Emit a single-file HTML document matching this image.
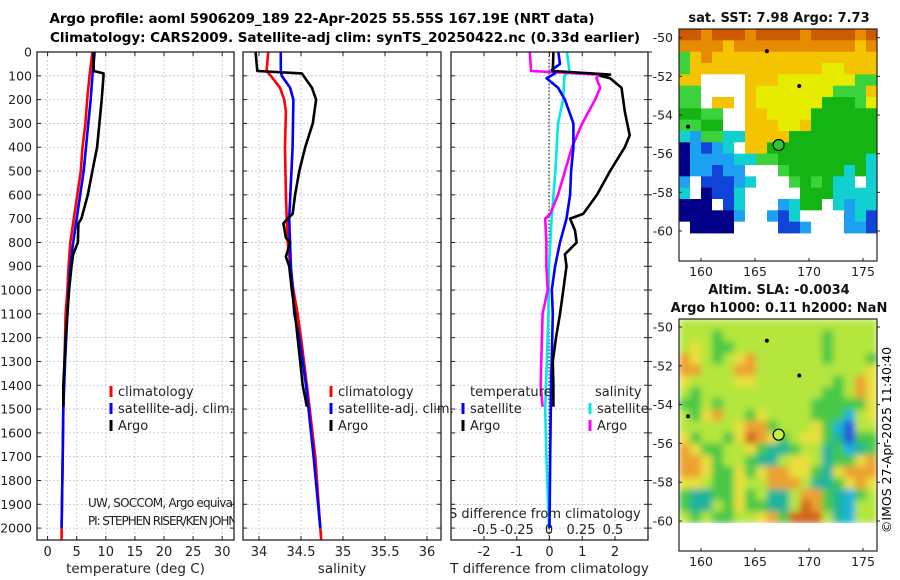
<!DOCTYPE html>
<html><head><meta charset="utf-8"><style>
html,body{margin:0;padding:0;background:#fff;width:900px;height:580px;overflow:hidden}
svg{display:block;font-family:"DejaVu Sans","Liberation Sans",sans-serif}
</style></head><body>
<svg id="fig" width="900" height="580" viewBox="0 0 900 580" xmlns="http://www.w3.org/2000/svg">
<defs>
<filter id="soft" x="0" y="0" width="1" height="1"><feGaussianBlur stdDeviation="3.5" edgeMode="duplicate"/></filter>
<clipPath id="slaclip"><rect x="679" y="319" width="198" height="204"/></clipPath>
</defs>
<text x="322" y="23" text-anchor="middle" font-weight="bold" font-size="13.5" textLength="545">Argo profile: aoml 5906209_189 22-Apr-2025 55.55S 167.19E (NRT data)</text>
<text x="345" y="42" text-anchor="middle" font-weight="bold" font-size="13.5" textLength="590">Climatology: CARS2009. Satellite-adj clim: synTS_20250422.nc (0.33d earlier)</text>
<g id="panels"></g>
<g id="maps"></g>
<text transform="translate(891,440) rotate(-90)" text-anchor="middle" font-size="12.5">©IMOS 27-Apr-2025 11:40:40</text>
</svg>
<script>
// ---------------- data ----------------
const depthTicks = [0,100,200,300,400,500,600,700,800,900,1000,1100,1200,1300,1400,1500,1600,1700,1800,1900,2000];
const tempTicks = [0,5,10,15,20,25,30];
const salTicks = [34,34.5,35,35.5,36];
const tdiffTicks = [-2,-1,0,1,2];
const sdiffTicks = [-0.5,-0.25,0,0.25,0.5];

const argoDepth = [0,80,90,100,200,300,400,500,600,700,720,800,850,900,1000,1100,1200,1300,1400,1490];
const argoTemp  = [7.9,7.9,9.6,9.6,9.3,8.9,8.5,7.7,6.9,5.8,5.3,5.2,4.4,4.1,3.7,3.4,3.1,2.9,2.7,2.7];
const climDepth = [0,100,200,300,400,500,600,700,800,900,1000,1100,1300,1500,1700,2000,2050];
const climTemp  = [7.7,7.2,6.8,6.5,6.0,5.7,5.1,4.5,3.9,3.6,3.4,3.1,2.9,2.7,2.6,2.4,2.4];
const satDepth  = [0,100,200,300,400,500,600,700,800,900,1000,1100,1300,1500,1700,2000];
const satTemp   = [8.1,7.7,7.4,7.0,6.6,6.2,5.6,5.0,4.4,3.9,3.6,3.4,3.0,2.7,2.6,2.4];

const argoSDepth = [0,80,90,150,200,300,400,500,600,680,700,720,780,800,860,900,1000,1100,1200,1300,1400,1490];
const argoSal    = [33.96,33.98,34.51,34.63,34.68,34.64,34.55,34.48,34.43,34.40,34.34,34.29,34.32,34.37,34.32,34.36,34.39,34.43,34.46,34.49,34.52,34.57];
const climSDepth = [0,80,100,150,200,250,400,600,800,1000,1100,1200,1400,1700,2000,2050];
const climSal    = [34.11,34.09,34.14,34.25,34.30,34.32,34.31,34.32,34.34,34.41,34.46,34.50,34.57,34.67,34.73,34.74];
const satSDepth  = [0,80,100,150,200,400,700,900,1100,1200,1400,1700,2000];
const satSal     = [34.26,34.26,34.27,34.37,34.41,34.40,34.36,34.38,34.42,34.48,34.56,34.65,34.73];

const tdArgoDepth = [0,80,95,100,110,150,250,350,400,500,600,680,700,750,800,850,900,1000,1100,1200,1300,1400,1490];
const tdArgo      = [0.12,0.1,1.85,1.55,1.85,2.2,2.3,2.45,2.3,1.85,1.45,1.03,0.63,0.78,0.83,0.47,0.52,0.42,0.32,0.2,0.1,0.12,0.12];
const tdSatDepth  = [0,50,75,90,110,150,200,300,400,500,600,700,800,900,1000,1100,1400,1700,2000];
const tdSat       = [0.27,0.32,0.07,0.17,-0.09,0.26,0.47,0.73,0.73,0.66,0.63,0.52,0.32,0.17,0.07,0.1,0.05,0.02,0];
const sdSatDepth  = [0,80,100,200,300,500,700,900,1100,1500,1700,2000];
const sdSat       = [0.14,0.16,0.12,0.11,0.07,0.05,0.02,0,-0.005,-0.03,-0.02,0];
const sdArgoDepth = [0,80,95,110,150,200,300,400,500,600,680,700,800,900,1000,1100,1300,1400,1490];
const sdArgo      = [-0.15,-0.14,0.39,0.37,0.4,0.36,0.26,0.18,0.125,0.07,0.01,-0.03,-0.02,-0.02,-0.01,-0.05,-0.06,-0.065,-0.05];

// ---------------- helpers ----------------
const NS = "http://www.w3.org/2000/svg";
const fig = document.getElementById('panels');
function mk(tag, attrs, parent){ const e=document.createElementNS(NS,tag); for(const k in attrs) e.setAttribute(k,attrs[k]); (parent||fig).appendChild(e); return e; }
const Y0 = 52, YS = 488/2050;
function yD(d){ return Y0 + d*YS; }

function panel(name, x0, x1, xfun, ticks, tickFmt, xlabel){
  const g = mk('g',{});
  
  
  depthTicks.forEach(d=>{
    const l = mk('line',{x1:x0,x2:x1,y1:yD(d),y2:yD(d),stroke:'#b8c4e0','stroke-width':0.8,'stroke-dasharray':'2,2'},g);
    
    
    mk('line',{x1:x0,x2:x0+4,y1:yD(d),y2:yD(d),stroke:'#222'},g);
    mk('line',{x1:x1,x2:x1-4,y1:yD(d),y2:yD(d),stroke:'#222'},g);
  });
  ticks.forEach(t=>{
    const x = xfun(t);
    const l = mk('line',{x1:x,x2:x,y1:Y0,y2:540,stroke:'#b8c4e0','stroke-width':0.8,'stroke-dasharray':'2,2'},g);
    
    
    mk('line',{x1:x,x2:x,y1:540,y2:536,stroke:'#222'},g);
    mk('line',{x1:x,x2:x,y1:Y0,y2:Y0+4,stroke:'#222'},g);
    const tx = mk('text',{x:x,y:556,'text-anchor':'middle','font-size':13,fill:'#222'},g);
    tx.textContent = tickFmt(t);
    
    
  });
  const xl = mk('text',{x:(x0+x1)/2,y:573,'text-anchor':'middle','font-size':13.5,fill:'#222'},g);
  xl.textContent = xlabel;
  
  
  return g;
}
function frame(g,x0,x1){
  const r = mk('rect',{x:x0,y:Y0,width:x1-x0,height:540-Y0,fill:'none',stroke:'#222','stroke-width':1.3},g);
  
  
}
function clipFor(id,x0,x1){
  const cp = mk('clipPath',{id:id});
  mk('rect',{x:x0,y:Y0,width:x1-x0,height:540-Y0},cp);
}
function series(g, name, depths, vals, xfun, color, clip){
  const pts = depths.map((d,i)=> xfun(vals[i]).toFixed(1)+','+yD(d).toFixed(1)).join(' ');
  const p = mk('polyline',{points:pts,fill:'none',stroke:color,'stroke-width':2.6,'stroke-linejoin':'round','clip-path':'url(#'+clip+')'},g);
  
  
}
function legend(g, x, y, color, label){
  const l = mk('line',{x1:x,x2:x,y1:y-10,y2:y+1,stroke:color,'stroke-width':3},g);
  
  
  const t = mk('text',{x:x+7,y:y,'font-size':13,fill:'#222'},g);
  t.textContent = label;
  
  
}

depthTicks.forEach(d=>{
  const t = mk('text',{x:32,y:yD(d)+4.5,'text-anchor':'end','font-size':12.5,fill:'#222'});
  t.textContent = d;
  
  
});

// panel 1 temperature
const xT = t=>47.6+5.82*t;
clipFor('c1',37,234);
const g1 = panel('temperature-panel',37,234,xT,tempTicks,t=>String(t),'temperature (deg C)');
series(g1,'temp-climatology-line',climDepth,climTemp,xT,'#f00','c1');
series(g1,'temp-satellite-line',satDepth,satTemp,xT,'#00f','c1');
series(g1,'temp-argo-line',argoDepth,argoTemp,xT,'#000','c1');
legend(g1,111,396,'#f00','climatology');
legend(g1,111,413,'#00f','satellite-adj. clim.');
legend(g1,111,430,'#000','Argo');
const cred = mk('g',{'clip-path':'url(#c1)'},g1);


const c1t = mk('text',{x:88,y:507,'font-size':12,fill:'#222',textLength:165},cred); c1t.textContent='UW, SOCCOM, Argo equivalent';
const c2t = mk('text',{x:88,y:525,'font-size':12,fill:'#222',textLength:172},cred); c2t.textContent='PI: STEPHEN RISER/KEN JOHNSON';
frame(g1,37,234);

// panel 2 salinity
const xS = s=>259+84*(s-34);
clipFor('c2',243,441);
const g2 = panel('salinity-panel',243,441,xS,salTicks,t=>String(t),'salinity');
series(g2,'sal-climatology-line',climSDepth,climSal,xS,'#f00','c2');
series(g2,'sal-satellite-line',satSDepth,satSal,xS,'#00f','c2');
series(g2,'sal-argo-line',argoSDepth,argoSal,xS,'#000','c2');
legend(g2,331,396,'#f00','climatology');
legend(g2,331,413,'#00f','satellite-adj. clim.');
legend(g2,331,430,'#000','Argo');
frame(g2,243,441);

// panel 3 differences
const xTD = t=>549.5+32.75*t;
const xSD = s=>549+128*s;
clipFor('c3',451,648);
const g3 = panel('difference-panel',451,648,xTD,tdiffTicks,t=>String(t),'T difference from climatology');
const zl = mk('line',{x1:549,x2:549,y1:Y0,y2:540,stroke:'#333','stroke-width':1.2,'stroke-dasharray':'1.5,2'},g3);


series(g3,'sdiff-satellite-line',sdSatDepth,sdSat,xSD,'#00e8e8','c3');
series(g3,'sdiff-argo-line',sdArgoDepth,sdArgo,xSD,'#f0f','c3');
series(g3,'tdiff-satellite-line',tdSatDepth,tdSat,xTD,'#00f','c3');
series(g3,'tdiff-argo-line',tdArgoDepth,tdArgo,xTD,'#000','c3');
const lt = mk('text',{x:470,y:396,'font-size':13,fill:'#222'},g3); lt.textContent='temperature';
 
const ls = mk('text',{x:595,y:396,'font-size':13,fill:'#222'},g3); ls.textContent='salinity';
 
legend(g3,463,413,'#00f','satellite');
legend(g3,463,430,'#000','Argo');
legend(g3,590,413,'#00e8e8','satellite');
legend(g3,590,430,'#f0f','Argo');
const sg = mk('g',{'clip-path':'url(#c3)'},g3);
const sl = mk('text',{x:449,y:518,'font-size':13,fill:'#222'},sg); sl.textContent='S difference from climatology';
 
sdiffTicks.forEach(s=>{
  const t = mk('text',{x:xSD(s),y:534,'text-anchor':'middle','font-size':13,fill:'#222'},g3);
  t.textContent = String(s);
  
  
});
frame(g3,451,648);
depthTicks.forEach(d=>mk('line',{x1:648,x2:652,y1:yD(d),y2:yD(d),stroke:'#222'},g3));

// ---------------- maps ----------------
const M = document.getElementById('maps');
const sstPal = {O:'#cc5a00',o:'#e68a00',y:'#f5c400',Y:'#e6ec00',g:'#3cd23c',G:'#14b414',c:'#10d0d0',b:'#1ca0f0',B:'#1044d8',n:'#000088',w:'#ffffff'};
const sstGrid = [
"OOoOOOoOOOOoOOOOoO",
"ooooyoooooooooooyo",
"gyoyyyyyyyyyyyyyyy",
"gyyyyyyyyyyyyYYyyy",
"yywwwwyyyYYYYYYYgg",
"ggwwwwyYYYYYYYgggy",
"ggwyywyYYYYYYGGGgY",
"GGggwwyyYYYYGGGGGG",
"ggGGwwyyyYYyGGGGGG",
"cbggccyyyyGGGGGGGG",
"nbBbcwyyGGGGGGGGGG",
"nbbbbccggGGGGGGGGc",
"nbbBbbwwwgGGGGGcGc",
"bwBBBbcwwwgGgGccwc",
"cwnBBcwwwwwGGGcccc",
"nnnwBcwwwbcGGwcbcc",
"nnnnnbwwbBcwwwwbcB",
"wnnnnwwwwBBbwwwbbB"];
const slaPal = {L:'#b4e63c',G:'#46c846',Y:'#e8e03c',O:'#eca032',R:'#d2641e',T:'#1eb49c',C:'#14b4dc',B:'#2050e0'};
const slaGrid = [
"LLLLLLLLLLLLLLLLLL",
"LLLGLLLLLLLLLGLLLL",
"LYLGGLLLLLLLLGLLLL",
"OYLGLYOLLLLLLGLLLG",
"OOLLLOOLLLLLLLLLLY",
"YLLLLYYLLLLLLLGLOY",
"LGLLLLLLLLLLLGGLOY",
"GGLGLLLLLLLLGGGGGY",
"LGYOLLGYLLLLGGGCLY",
"LLLLLYOOGLLLYGCBLL",
"YGLLGYROYGLYYGTBGG",
"OYGGLLYGTTGLLTGCTG",
"OOYGLLGTTLYYLTGGYO",
"OOYGGYGYOOYYGTYOOO",
"YYLGGYLLOOOLTTGYOY",
"GTTGGYGLTTLOOGTCGL",
"GTTLGYGGTTLROGTCLL",
"LGLGGLLYOGRRRLTCLL"];
const latTicks = [-50,-52,-54,-56,-58,-60];
const lonTicks = [160,165,170,175];

function drawMap(name, top, lat50y, lat60y, grid, pal, titleLines, markerFill, smooth){
  const g = mk('g',{},M);
  
  
  const x0=679,x1=877,bottom=top+232;
  const dataBottom = lat60y+2;
  const rows = grid.length, cols = grid[0].length;
  const cw=(x1-x0)/cols, ch=(dataBottom-top)/rows;
  let cg = g;
  if(smooth){
    const outer = mk('g',{'clip-path':'url(#slaclip)'},g);
    cg = mk('g',{filter:'url(#soft)'},outer);
  }
  grid.forEach((row,r)=>{ for(let c=0;c<cols;c++){
    mk('rect',{x:(x0+c*cw).toFixed(2),y:(top+r*ch).toFixed(2),width:(cw+0.4).toFixed(2),height:(ch+0.4).toFixed(2),fill:pal[row[c]]},cg);
  }});
  const latY = l=>lat50y+(lat60y-lat50y)*(-50-l)/10;
  const lonX = l=>701+(863-701)*(l-160)/15;
  const mp = [[166.1,-50.7],[169.1,-52.5],[158.8,-54.6]];
  mp.forEach(p=>mk('circle',{cx:lonX(p[0]),cy:latY(p[1]),r:2,fill:'#000'},g));
  const pc = mk('circle',{cx:lonX(167.19),cy:latY(-55.55),r:5.5,fill:markerFill,stroke:'#000','stroke-width':1.2},g);
  
  
  mk('rect',{x:x0,y:top,width:x1-x0,height:bottom-top,fill:'none',stroke:'#222','stroke-width':1.2},g);
  latTicks.forEach(l=>{
    const y=latY(l);
    mk('line',{x1:x0,x2:x0+3,y1:y,y2:y,stroke:'#222'},g);
    mk('line',{x1:x1,x2:x1+3,y1:y,y2:y,stroke:'#222'},g);
    const t=mk('text',{x:673,y:y+4.5,'text-anchor':'end','font-size':12.5,fill:'#222'},g);
    t.textContent=String(l);
    
    
  });
  lonTicks.forEach(l=>{
    const x=lonX(l);
    mk('line',{x1:x,x2:x,y1:bottom,y2:bottom-3,stroke:'#222'},g);
    const t=mk('text',{x:x,y:bottom+15,'text-anchor':'middle','font-size':12.5,fill:'#222'},g);
    t.textContent=String(l);
    
    
  });
  titleLines.forEach((s,i)=>{
    const t=mk('text',{x:779,y:top-(titleLines.length-1-i)*18-7,'text-anchor':'middle','font-size':13,'font-weight':'bold',fill:'#111'},g);
    t.textContent=s;
    
    
  });
}
drawMap('sst-map',29,37.7,231,sstGrid,sstPal,['sat. SST: 7.98 Argo: 7.73'],'#2ec82e',false);
drawMap('sla-map',319,327,521,slaGrid,slaPal,['Altim. SLA: -0.0034','Argo h1000: 0.11 h2000: NaN'],'#c8f03c',true);
</script>
</body></html>
